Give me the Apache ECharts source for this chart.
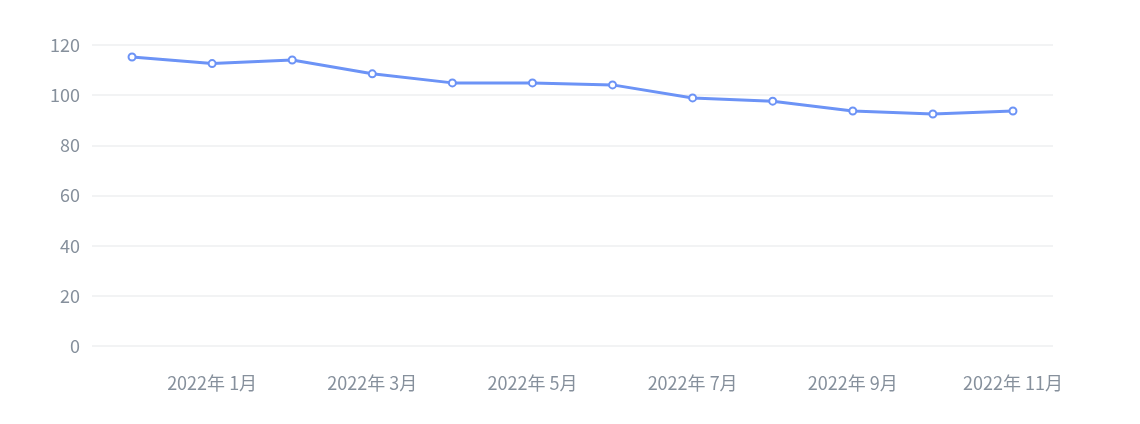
<!DOCTYPE html>
<html><head><meta charset="utf-8">
<script src="https://cdn.jsdelivr.net/npm/echarts@6/dist/echarts.min.js"></script>
<style>html,body{margin:0;padding:0;background:#fff}#c{width:1140px;height:424px}</style>
</head><body><div id="c"></div>
<script>
const categories = ['2021年 12月','2022年 1月','2022年 2月','2022年 3月','2022年 4月','2022年 5月','2022年 6月','2022年 7月','2022年 8月','2022年 9月','2022年 10月','2022年 11月'];
const values = [115.2, 112.6, 114.0, 108.5, 104.9, 104.9, 104.1, 98.9, 97.6, 93.7, 92.5, 93.7];
const yTicks = {min: 0, max: 120, interval: 20};

const chart = echarts.init(document.getElementById('c'));
chart.setOption({
  animation: false,
  grid: {left: 92, right: 87, top: 45, bottom: 78, containLabel: false},
  xAxis: {
    type: 'category',
    data: categories,
    boundaryGap: true,
    axisLine: {show: false},
    axisTick: {show: false},
    axisLabel: {
      color: '#86909c', fontSize: 18, margin: 28,
      fontFamily: '"Noto Sans CJK SC", "Noto Sans", sans-serif',
      interval: function (i) { return i % 2 === 1; }
    }
  },
  yAxis: {
    type: 'value',
    min: yTicks.min, max: yTicks.max, interval: yTicks.interval,
    axisLine: {show: false},
    axisTick: {show: false},
    axisLabel: {color: '#86909c', fontSize: 18, margin: 12, fontFamily: '"Noto Sans CJK SC", "Noto Sans", sans-serif'},
    splitLine: {lineStyle: {color: '#eeeff1', width: 1.5}}
  },
  series: [{
    type: 'line',
    data: values,
    symbol: 'emptyCircle',
    symbolSize: 7,
    lineStyle: {color: '#6c93f6', width: 3},
    itemStyle: {color: '#6c93f6', borderWidth: 2}
  }]
});
</script></body></html>
